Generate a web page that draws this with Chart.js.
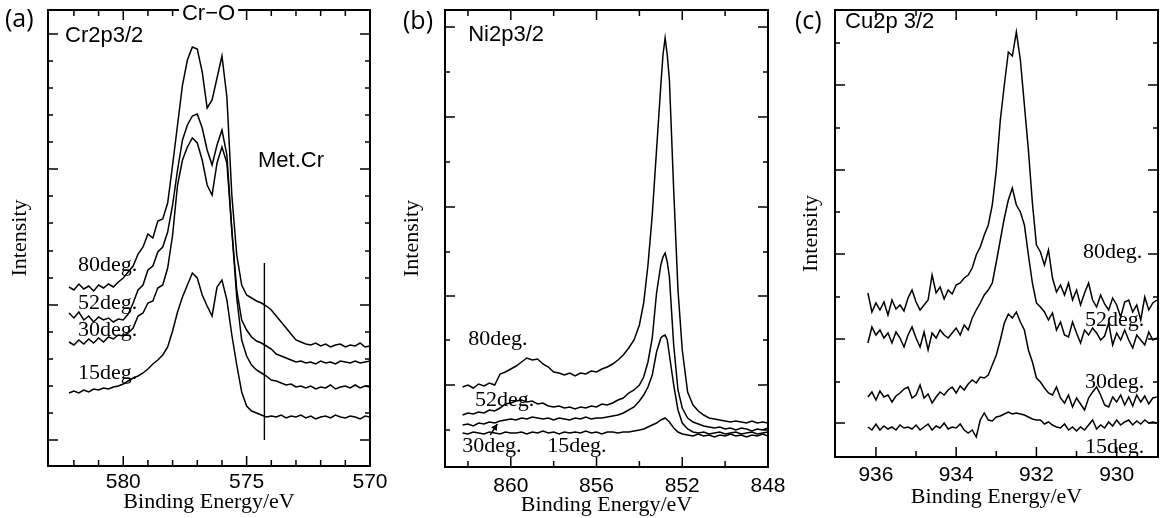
<!DOCTYPE html>
<html>
<head>
<meta charset="utf-8">
<script src="https://cdn.jsdelivr.net/npm/chart.js@4.4.1/dist/chart.umd.min.js"></script>
<style>
  body { margin: 0; background: #fff; width: 1161px; height: 518px; position: relative; overflow: hidden; }
  canvas { position: absolute; top: 0; }
  .tag { position: absolute; font-family: "Open Sans", sans-serif; font-size: 25px; line-height: 1; color: #000; }
</style>
</head>
<body>
<canvas id="chartA" width="395" height="518" style="left:0px"></canvas>
<canvas id="chartB" width="400" height="518" style="left:385px"></canvas>
<canvas id="chartC" width="386" height="518" style="left:775px"></canvas>
<div class="tag" style="left:5px;top:5px">(a)</div>
<div class="tag" style="left:403px;top:7px">(b)</div>
<div class="tag" style="left:795px;top:7px">(c)</div>
<script>
// (a) Cr2p3/2 - binding energy (eV) and intensity (a.u.) per take-off angle
const energyA = [582.2,582.0,581.8,581.6,581.4,581.2,581.0,580.8,580.6,580.4,580.2,580.0,579.8,579.6,579.4,579.2,579.0,578.8,578.6,578.4,578.2,578.0,577.8,577.6,577.4,577.2,577.0,576.8,576.6,576.4,576.2,576.0,575.8,575.6,575.4,575.2,575.0,574.8,574.6,574.4,574.2,574.0,573.8,573.6,573.4,573.2,573.0,572.8,572.6,572.4,572.2,572.0,571.8,571.6,571.4,571.2,571.0,570.8,570.6,570.4,570.2,570.0];
const crA80 = [179,176,182,177,180,175,181,178,182,179,184,188,194,200,212,219,232,228,245,247,263,301,341,381,406,419,417,394,358,366,388,410,369,271,211,181,171,168,165,163,160,156,150,144,138,132,126,124,122,121,123,120,122,119,121,122,119,121,120,123,119,120];
const crA52 = [153,148,154,146,150,144,149,146,148,144,147,146,152,163,176,181,196,200,214,219,234,261,296,326,341,350,352,338,316,301,321,336,311,236,176,146,136,129,125,123,120,117,112,110,108,106,104,105,103,104,102,105,103,104,102,105,104,103,105,103,104,105];
const crA30 = [124,121,126,122,127,123,128,124,129,127,131,130,133,138,150,153,163,165,178,181,198,231,281,306,319,328,323,306,281,271,303,319,303,236,168,126,110,101,96,93,90,86,85,83,81,82,79,80,78,80,77,79,78,81,77,79,80,78,81,78,80,79];
const crA15 = [73,75,73,76,74,77,76,78,77,79,80,82,85,88,90,93,97,102,106,111,119,135,154,169,181,193,188,171,160,150,179,186,166,131,101,74,60,55,53,51,49,50,49,51,48,50,49,51,48,50,47,49,50,48,51,49,48,50,49,47,50,49];

// (b) Ni2p3/2
const energyB = [862.25,862.0,861.75,861.5,861.25,861.0,860.75,860.5,860.25,860.0,859.75,859.5,859.25,859.0,858.75,858.5,858.25,858.0,857.75,857.5,857.25,857.0,856.75,856.5,856.25,856.0,855.75,855.5,855.25,855.0,854.75,854.5,854.25,854.0,853.8,853.6,853.4,853.2,853.0,852.9,852.8,852.7,852.6,852.4,852.2,852.0,851.75,851.5,851.25,851.0,850.75,850.5,850.25,850.0,849.75,849.5,849.25,849.0,848.75,848.5,848.25,848.0];
const niB80 = [80,82,79,83,81,84,82,93,95,98,101,105,109,107,108,103,100,95,94,92,94,91,94,93,96,95,98,100,103,107,112,119,127,142,164,202,252,317,382,412,429,412,387,277,177,117,75,62,56,52,49,48,47,46,45,46,45,44,46,44,45,44];
const niB52 = [52,54,53,55,54,57,56,59,63,64,66,67,65,66,63,64,61,60,61,59,60,58,60,59,61,60,63,62,64,67,69,74,77,82,90,105,129,174,202,210,214,205,190,122,77,59,49,45,43,41,40,39,40,38,39,37,39,38,36,38,37,39];
const niB30 = [42,43,41,44,43,45,44,46,47,48,47,49,48,50,49,48,49,47,49,48,47,49,48,50,48,49,49,50,51,52,54,57,60,66,72,80,92,115,129,131,132,127,112,82,57,44,38,35,34,35,33,34,35,33,34,35,33,34,35,33,34,35];
const niB15 = [34,33,35,34,33,35,34,33,35,34,34,35,33,35,34,36,34,35,33,35,34,35,34,36,34,35,33,35,35,34,35,35,36,37,38,40,42,44,47,48,49,47,45,39,35,33,32,31,33,31,32,30,32,31,33,31,32,30,32,31,33,31];

// (c) Cu2p 3/2
const energyC = [936.2,936.1,936.0,935.9,935.8,935.7,935.6,935.5,935.4,935.3,935.2,935.1,935.0,934.9,934.8,934.7,934.6,934.5,934.4,934.3,934.2,934.1,934.0,933.9,933.8,933.7,933.6,933.5,933.4,933.3,933.2,933.1,933.0,932.9,932.8,932.7,932.6,932.5,932.4,932.3,932.2,932.1,932.0,931.9,931.8,931.7,931.6,931.5,931.4,931.3,931.2,931.1,931.0,930.9,930.8,930.7,930.6,930.5,930.4,930.3,930.2,930.1,930.0,929.9,929.8,929.7,929.6,929.5,929.4,929.3,929.2,929.1,929.0];
const cuC80 = [164,145,154,147,155,142,157,148,152,146,159,167,155,147,152,157,182,164,170,158,167,163,172,174,179,182,189,202,210,222,232,252,287,337,372,405,401,425,397,352,307,254,212,205,192,207,179,165,172,162,174,157,167,152,164,174,157,150,162,153,147,159,152,140,155,157,145,152,137,160,147,154,157];
const cuC52 = [114,130,122,127,119,124,114,125,119,110,122,130,119,110,125,107,124,119,127,122,119,124,129,122,132,127,139,147,154,162,167,174,195,217,239,257,269,252,245,232,202,174,154,150,145,137,144,127,135,122,120,135,124,114,127,122,129,124,117,121,134,112,124,117,127,117,109,122,117,112,125,117,119];
const cuC30 = [60,65,57,66,60,62,55,61,64,68,70,59,62,72,59,63,54,60,65,62,67,70,64,71,67,73,77,74,80,79,82,92,102,117,134,143,139,145,135,127,107,95,79,75,69,64,62,70,59,54,62,50,59,53,47,59,65,70,62,52,50,60,55,62,52,60,51,62,55,61,53,59,60];
const cuC15 = [30,27,33,27,31,28,30,27,32,29,30,28,32,27,30,33,27,31,29,34,28,30,29,33,27,24,27,20,37,44,37,36,40,41,43,45,43,44,43,42,40,38,37,37,33,35,32,30,29,33,27,30,26,30,27,32,37,28,32,29,35,31,37,32,35,37,32,36,33,37,34,35,34];

// tick marks (energy and intensity units)
const xTicksA = [571,572,573,574,575,576,577,578,579,580,581,582], xMajorA = [575,580];
const yTicksA = [26,53,80,107,134,161,188,215,243,270,297,324,351,378,405,432], yMajorA = [26,161,297,432];
const xTicksB = [850,852,854,856,858,860,862], xMajorB = [852,856,860];
const yTicksB = [37,82,127,171,215,260,305,350,395,440], yMajorB = [82,171,260,350,440];
const xTicksC = [930,931,932,933,934,935,936], xMajorC = [930,932,934,936];
const yTicksC = [34,75,118,160,203,245,287,329,372,414], yMajorC = [34,118,203,287,372];

const SANS = '22px "Liberation Sans", Arial, sans-serif';
const SERIF = '22px "Liberation Serif", "Times New Roman", serif';

function deco(opt) {
  return {
    id: 'deco',
    afterDraw(chart) {
      const {ctx, chartArea: a, scales: {x, y}} = chart;
      ctx.save();
      ctx.strokeStyle = '#000';
      ctx.fillStyle = '#000';
      ctx.lineWidth = 1.5;
      ctx.beginPath();
      opt.xTicks.forEach(v => {
        const px = x.getPixelForValue(v);
        const len = opt.xMajor.includes(v) ? 10 : 6;
        ctx.moveTo(px, a.bottom); ctx.lineTo(px, a.bottom - len);
        ctx.moveTo(px, a.top); ctx.lineTo(px, a.top + len);
      });
      opt.yTicks.forEach(v => {
        const py = y.getPixelForValue(v);
        const len = opt.yMajor.includes(v) ? 10 : 5;
        ctx.moveTo(a.left, py); ctx.lineTo(a.left + len, py);
        ctx.moveTo(a.right, py); ctx.lineTo(a.right - len, py);
      });
      ctx.stroke();
      ctx.lineWidth = 2;
      ctx.strokeRect(a.left, a.top, a.right - a.left, a.bottom - a.top);

      // extra marks (vertical line, arrow)
      ctx.lineWidth = 1.4;
      (opt.marks || []).forEach(m => {
        const x1 = x.getPixelForValue(m.x1), y1 = y.getPixelForValue(m.y1);
        const x2 = x.getPixelForValue(m.x2), y2 = y.getPixelForValue(m.y2);
        ctx.beginPath(); ctx.moveTo(x1, y1); ctx.lineTo(x2, y2); ctx.stroke();
        if (m.head) {
          const ang = Math.atan2(y2 - y1, x2 - x1);
          ctx.beginPath();
          ctx.moveTo(x2, y2);
          ctx.lineTo(x2 - 7 * Math.cos(ang - 0.5), y2 - 7 * Math.sin(ang - 0.5));
          ctx.lineTo(x2 - 7 * Math.cos(ang + 0.5), y2 - 7 * Math.sin(ang + 0.5));
          ctx.closePath(); ctx.fill();
        }
      });

      ctx.textAlign = 'left';
      ctx.textBaseline = 'alphabetic';
      opt.notes.forEach(n => {
        ctx.font = n.f;
        const tx = x.getPixelForValue(n.x), ty = y.getPixelForValue(n.y);
        if (n.bg) {
          const w = ctx.measureText(n.t).width;
          ctx.fillStyle = '#fff';
          ctx.fillRect(tx - 3, ty - 18, w + 6, 22);
          ctx.fillStyle = '#000';
        }
        ctx.fillText(n.t, tx, ty);
      });
      ctx.restore();
    }
  };
}

function panel(id, p) {
  const datasets = p.series.map(s => ({
    data: p.energy.map((e, i) => ({x: e, y: s[i]})),
    borderColor: '#000',
    borderWidth: 1.5,
    pointRadius: 0,
    tension: 0
  }));
  return new Chart(document.getElementById(id), {
    type: 'line',
    data: {datasets: datasets},
    options: {
      responsive: false,
      animation: false,
      events: [],
      layout: {padding: {top: 10, right: p.padRight, left: 0, bottom: 0}},
      plugins: {legend: {display: false}, tooltip: {enabled: false}},
      scales: {
        x: {
          type: 'linear', reverse: true, min: p.xMin, max: p.xMax,
          grid: {display: false, drawTicks: false}, border: {display: false},
          ticks: {stepSize: p.step, includeBounds: false, autoSkip: false, maxRotation: 0,
                  padding: p.tickPad, color: '#000',
                  font: {family: '"Liberation Sans", Arial, sans-serif', size: 21}},
          title: {display: true, text: 'Binding Energy/eV', color: '#000',
                  font: {family: '"Liberation Serif", "Times New Roman", serif', size: 22},
                  padding: {top: 0, bottom: p.titlePad}},
          afterFit: s => { s.height = p.xH; s.paddingLeft = 0; s.paddingRight = 0; }
        },
        y: {
          min: 0, max: p.yMax,
          ticks: {display: false}, grid: {display: false, drawTicks: false}, border: {display: false},
          title: {display: true, text: 'Intensity', color: '#000',
                  font: {family: '"Liberation Serif", "Times New Roman", serif', size: 22},
                  padding: {top: p.yTitlePad, bottom: 0}},
          afterFit: s => { s.width = p.yW; }
        }
      }
    },
    plugins: [deco(p.deco)]
  });
}

panel('chartA', {
  energy: energyA, series: [crA80, crA52, crA30, crA15],
  xMin: 570, xMax: 583.05, step: 5, yMax: 456,
  padRight: 25, xH: 52, yW: 48, tickPad: 4, titlePad: 3, yTitlePad: 7,
  deco: {
    xTicks: xTicksA, xMajor: xMajorA, yTicks: yTicksA, yMajor: yMajorA,
    marks: [{x1: 574.28, y1: 26, x2: 574.28, y2: 203}],
    notes: [
      {t: 'Cr2p3/2', x: 582.36, y: 424, f: SANS},
      {t: 'Cr\u2212O', x: 577.62, y: 446, f: SANS, bg: true},
      {t: 'Met.Cr', x: 574.54, y: 299, f: SANS},
      {t: '80deg.', x: 581.83, y: 195, f: SERIF},
      {t: '52deg.', x: 581.83, y: 157, f: SERIF},
      {t: '30deg.', x: 581.83, y: 130, f: SERIF},
      {t: '15deg.', x: 581.83, y: 87, f: SERIF}
    ]
  }
});

panel('chartB', {
  energy: energyB, series: [niB80, niB52, niB30, niB15],
  xMin: 848, xMax: 863.07, step: 4, yMax: 457,
  padRight: 17, xH: 51, yW: 60, tickPad: 7, titlePad: 0, yTitlePad: 14,
  deco: {
    xTicks: xTicksB, xMajor: xMajorB, yTicks: yTicksB, yMajor: yMajorB,
    marks: [{x1: 860.96, y1: 32, x2: 860.63, y2: 43, head: true}],
    notes: [
      {t: 'Ni2p3/2', x: 861.99, y: 426, f: SANS},
      {t: '80deg.', x: 861.99, y: 122, f: SERIF},
      {t: '52deg.', x: 861.67, y: 61, f: SERIF},
      {t: '30deg.', x: 862.27, y: 15, f: SERIF},
      {t: '15deg.', x: 858.30, y: 15, f: SERIF}
    ]
  }
});

panel('chartC', {
  energy: energyC, series: [cuC80, cuC52, cuC30, cuC15],
  xMin: 928.97, xMax: 937.02, step: 2, yMax: 447,
  padRight: 3, xH: 61, yW: 60, tickPad: 6, titlePad: 8, yTitlePad: 23,
  deco: {
    xTicks: xTicksC, xMajor: xMajorC, yTicks: yTicksC, yMajor: yMajorC,
    notes: [
      {t: 'Cu2p 3/2', x: 936.77, y: 429, f: SANS},
      {t: '80deg.', x: 930.84, y: 199, f: SERIF},
      {t: '52deg.', x: 930.79, y: 131, f: SERIF},
      {t: '30deg.', x: 930.79, y: 69, f: SERIF},
      {t: '15deg.', x: 930.79, y: 4, f: SERIF}
    ]
  }
});
</script>
</body>
</html>
